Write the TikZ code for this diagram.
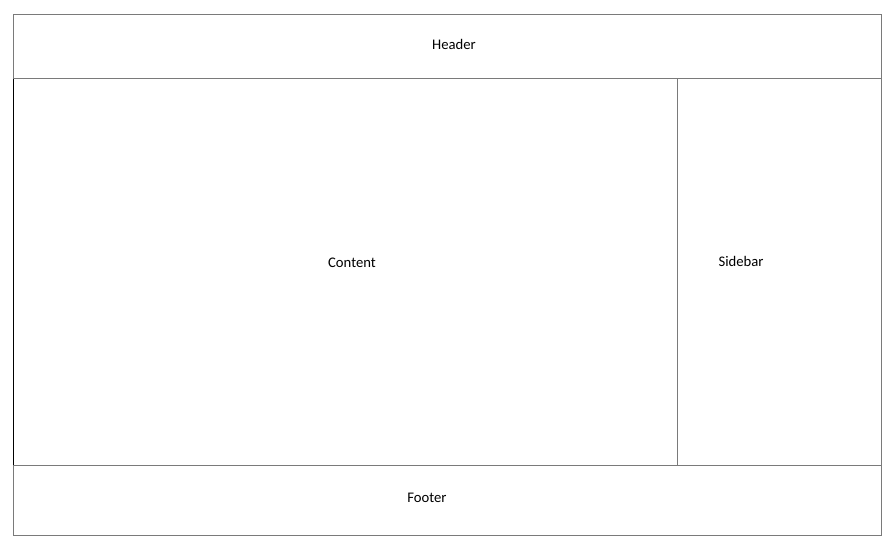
\documentclass[tikz,border=0pt]{standalone}
\usepackage{fontspec}
\setmainfont{Carlito}
\begin{document}
\begin{tikzpicture}[x=0.75pt,y=-0.75pt,
  region/.style={draw=black!52, line width=0.75pt, inner sep=0pt, outer sep=0pt},
  lbl/.style={font=\fontsize{11pt}{13pt}\selectfont, text=black}]
\useasboundingbox (0,0) rectangle (896,556);
\node[region, minimum width=868*0.75pt, minimum height=64*0.75pt, anchor=north west] (header) at (13,15) {};
\node[region, minimum width=664*0.75pt, minimum height=386*0.75pt, anchor=north west] (content) at (13,79) {};
\node[region, minimum width=204*0.75pt, minimum height=386*0.75pt, anchor=north west] (sidebar) at (677,79) {};
\node[region, minimum width=868*0.75pt, minimum height=70*0.75pt, anchor=north west] (footer) at (13,465) {};
\draw[black, line width=0.75pt] (content.north west) -- (content.south west);
\node[lbl] (htext) at (454,44) {Header};
\node[lbl] (ctext) at (352,263) {Content};
\node[lbl] (stext) at (741,261) {Sidebar};
\node[lbl] (ftext) at (427,498) {Footer};
\end{tikzpicture}
\end{document}
